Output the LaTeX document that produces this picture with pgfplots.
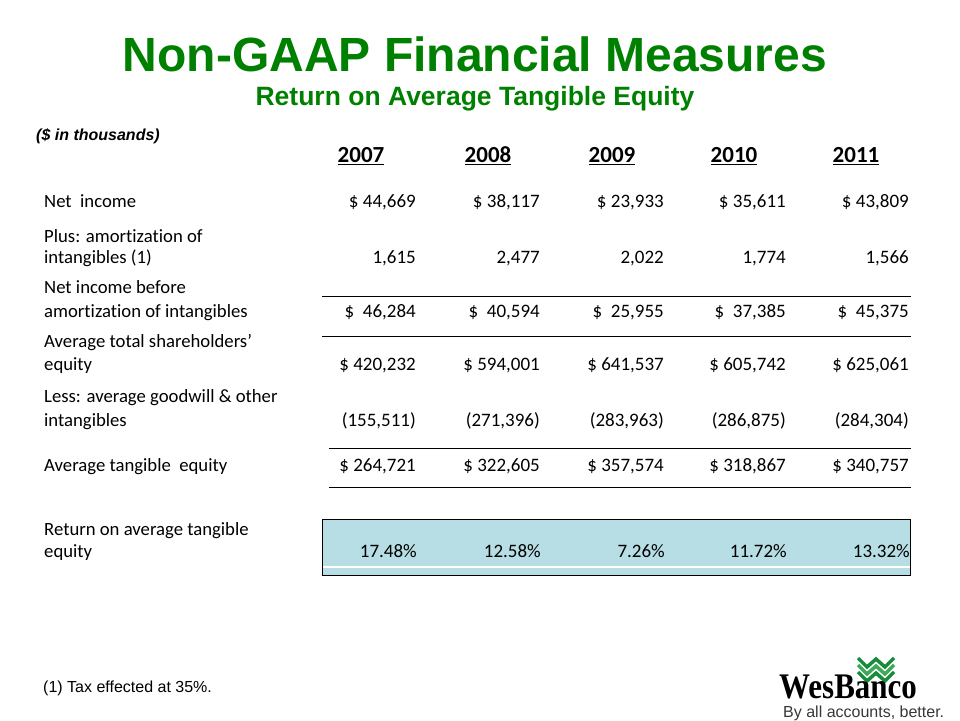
\documentclass[border=0pt]{standalone}
\usepackage{pgfplots}
\pgfplotsset{compat=1.18}
\usepackage{graphicx}
\usepackage{fontspec}
\setmainfont[Ligatures={NoCommon}]{Carlito}
\newfontfamily\arial{Liberation Sans}
\newfontfamily\tnr{Liberation Serif}
\definecolor{titlegreen}{RGB}{0,128,0}
\definecolor{rowteal}{RGB}{183,222,228}
\definecolor{logogreen}{RGB}{25,140,60}
\definecolor{logogreenb}{RGB}{60,170,90}
\definecolor{taggray}{RGB}{55,55,55}
\newcommand{\fs}[1]{\fontsize{#1bp}{#1bp}\selectfont}
\tikzset{rowlab/.style={anchor=base west, inner sep=0pt, font=\fs{18.7}, text=black}}
\pgfplotsset{
  valrow/.style={draw=none, mark=none, point meta=explicit symbolic, nodes near coords,
     every node near coord/.append style={anchor=base east, inner sep=0pt, xshift=0pt, yshift=0pt, font=\fs{19}, text=black}},
  hline/.style={black, line width=1bp, mark=none},
}
\begin{document}
\begin{tikzpicture}
\begin{axis}[
  hide axis, scale only axis, width=960bp, height=720bp,
  xmin=0, xmax=960, ymin=0, ymax=720, y dir=reverse, clip=false,
]
\path (axis cs:0,0) rectangle (axis cs:960,720);

% titles
\node[anchor=base, inner sep=0pt, text=titlegreen] at (axis cs:475,72) {\arial\bfseries\fs{48}Non-GAAP Financial Measures};
\node[anchor=base, inner sep=0pt, text=titlegreen] at (axis cs:475,106) {\arial\bfseries\fs{26.5}Return on Average Tangible Equity};
\node[anchor=base west, inner sep=0pt] at (axis cs:36,141) {\arial\bfseries\itshape\fs{16}(\$ in thousands)};

% year headers
\node[anchor=base, inner sep=0pt] at (axis cs:361,163) {\bfseries\fs{23}\underline{2007}};
\node[anchor=base, inner sep=0pt] at (axis cs:488,163) {\bfseries\fs{23}\underline{2008}};
\node[anchor=base, inner sep=0pt] at (axis cs:612,163) {\bfseries\fs{23}\underline{2009}};
\node[anchor=base, inner sep=0pt] at (axis cs:734,163) {\bfseries\fs{23}\underline{2010}};
\node[anchor=base, inner sep=0pt] at (axis cs:856,163) {\bfseries\fs{23}\underline{2011}};

% row labels
\node[rowlab] at (axis cs:44,207) {Net\ \ income};
\node[rowlab] at (axis cs:44,242) {Plus: amortization of};
\node[rowlab] at (axis cs:44,263) {intangibles (1)};
\node[rowlab] at (axis cs:44,293) {Net income before};
\node[rowlab] at (axis cs:44,317) {amortization of intangibles};
\node[rowlab] at (axis cs:44,347) {Average total shareholders’};
\node[rowlab] at (axis cs:44,370) {equity};
\node[rowlab] at (axis cs:44,402) {Less: average goodwill \& other};
\node[rowlab] at (axis cs:44,426) {intangibles};
\node[rowlab] at (axis cs:44,471) {Average tangible\ \ equity};
\node[rowlab] at (axis cs:44,535) {Return on average tangible};
\node[rowlab] at (axis cs:44,557) {equity};

% highlighted row background
\addplot[fill=rowteal, draw=none, mark=none] coordinates {(322,519) (910,519) (910,575) (322,575) (322,519)};
\addplot[white, line width=1.5bp, mark=none] coordinates {(322,567) (910,567)};
\addplot[hline] coordinates {(322,519) (910,519) (910,575) (322,575) (322,519)};

% rules
\addplot[hline] coordinates {(322,296) (911,296)};
\addplot[hline] coordinates {(322,336) (911,336)};
\addplot[hline] coordinates {(329,448) (911,448)};
\addplot[hline] coordinates {(329,487) (911,487)};

% values
\addplot[valrow] coordinates {(416,207) [\$ 44,669] (540,207) [\$ 38,117] (664,207) [\$ 23,933] (786,207) [\$ 35,611] (909,207) [\$ 43,809]};
\addplot[valrow] coordinates {(416,263) [1,615] (540,263) [2,477] (664,263) [2,022] (786,263) [1,774] (909,263) [1,566]};
\addplot[valrow] coordinates {(416,317) [\$~~46,284] (540,317) [\$~~40,594] (664,317) [\$~~25,955] (786,317) [\$~~37,385] (909,317) [\$~~45,375]};
\addplot[valrow] coordinates {(416,370) [\$ 420,232] (540,370) [\$ 594,001] (664,370) [\$ 641,537] (786,370) [\$ 605,742] (909,370) [\$ 625,061]};
\addplot[valrow] coordinates {(416,426) [(155,511)] (540,426) [(271,396)] (664,426) [(283,963)] (786,426) [(286,875)] (909,426) [(284,304)]};
\addplot[valrow] coordinates {(416,471) [\$ 264,721] (540,471) [\$ 322,605] (664,471) [\$ 357,574] (786,471) [\$ 318,867] (909,471) [\$ 340,757]};
\addplot[valrow] coordinates {(417,557) [17.48\%] (541,557) [12.58\%] (665,557) [7.26\%] (787,557) [11.72\%] (910,557) [13.32\%]};

% footnote
\node[anchor=base west, inner sep=0pt] at (axis cs:43,692) {\arial\fs{16}(1) Tax effected at 35\%.};

% logo
\addplot[logogreen, line width=3.5bp, mark=none] coordinates {(858,658) (867,667) (876,659) (885,667) (894,658)};
\addplot[logogreenb, line width=3.5bp, mark=none] coordinates {(858,665) (867,674) (876,666) (885,674) (894,665)};
\addplot[logogreen, line width=3.5bp, mark=none] coordinates {(858,672) (867,681) (876,673) (885,681) (894,672)};
\node[anchor=base west, inner sep=0pt, text depth=0pt] at (axis cs:779,698) {\scalebox{0.86}[1]{\tnr\bfseries\fs{36}WesBanco}};
\node[anchor=base west, inner sep=0pt, text height=11bp, text=taggray] at (axis cs:783,717) {\arial\fs{16}By all accounts, better.};
\end{axis}
\end{tikzpicture}
\end{document}
